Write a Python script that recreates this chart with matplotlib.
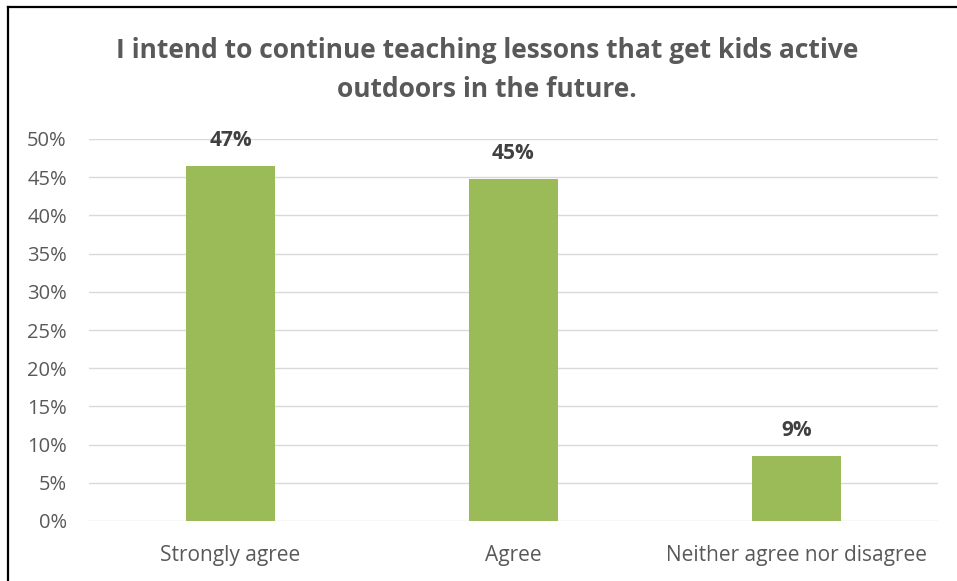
import matplotlib
matplotlib.use("Agg")
import matplotlib.pyplot as plt
from matplotlib.lines import Line2D
from matplotlib.ticker import MultipleLocator, FuncFormatter

categories = ["Strongly agree", "Agree", "Neither agree nor disagree"]
values = [0.465, 0.448, 0.085]
labels = ["47%", "45%", "9%"]
title = "I intend to continue teaching lessons that get kids active\noutdoors in the future."

plt.rcParams['font.family'] = ['Open Sans', 'DejaVu Sans']

W, H = 957, 581
fig = plt.figure(figsize=(W / 100, H / 100), dpi=100)
ax = fig.add_axes([89 / W, 1 - 521 / H, (938 - 89) / W, (521 - 139) / H])

x = list(range(len(categories)))
bars = ax.bar(x, values, width=0.314, color="#9BBB59", zorder=3)
ax.set_xlim(-0.5, len(categories) - 0.5)
ax.set_ylim(0, 0.5)
ax.yaxis.set_major_locator(MultipleLocator(0.05))
ax.yaxis.set_major_formatter(FuncFormatter(lambda v, p: f"{round(v * 100)}%"))
ax.grid(axis="y", color="#D9D9D9", linewidth=1.0, zorder=0)
for s in ax.spines.values():
    s.set_visible(False)
ax.tick_params(axis="both", length=0, colors="#595959")
ax.tick_params(axis="y", pad=16, labelsize=14.5)
ax.tick_params(axis="x", pad=17.5, labelsize=15)
ax.set_xticks(x)
ax.set_xticklabels(categories)

for xi, v, lab in zip(x, values, labels):
    ax.annotate(lab, (xi, v), xytext=(0, 18.5), textcoords="offset points",
                ha="center", va="center", fontsize=15, fontweight="bold", color="#404040")

fig.text(487 / W, 1 - 70 / H, title, ha="center", va="center", fontsize=19,
         fontweight="bold", color="#595959", linespacing=1.6)

# frame lines (top and left)
fig.add_artist(Line2D([8 / W, 1.0], [1 - 7 / H, 1 - 7 / H], color="black", linewidth=1.6,
                      transform=fig.transFigure))
fig.add_artist(Line2D([8 / W, 8 / W], [0, 1 - 7 / H], color="black", linewidth=1.6,
                      transform=fig.transFigure))

fig.savefig("out.png", dpi=100)
